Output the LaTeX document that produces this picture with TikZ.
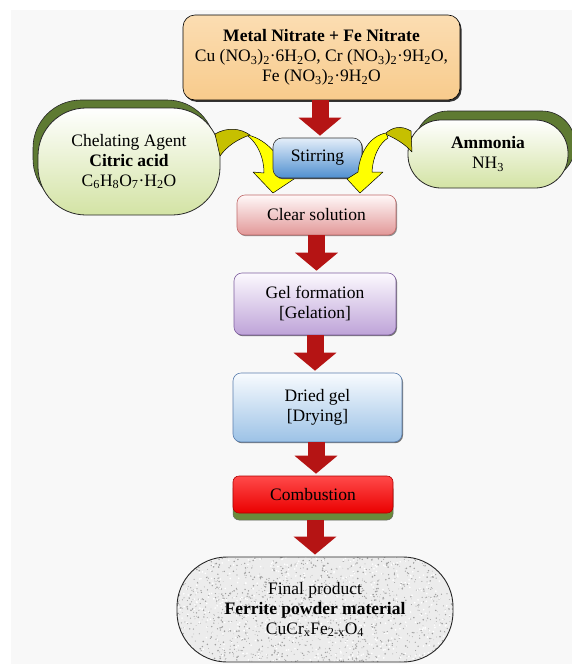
\documentclass[tikz,border=0pt]{standalone}
\usepackage{fontspec}
\setmainfont{Liberation Serif}
\usetikzlibrary{shadows,arrows.meta,calc,shadings}
\definecolor{bggray}{HTML}{F8F8F8}
\definecolor{orangeT}{HTML}{FBDDB2}
\definecolor{orangeB}{HTML}{F8CB8C}
\definecolor{stirT}{HTML}{E4EEF9}
\definecolor{stirB}{HTML}{4F8FD0}
\definecolor{clearT}{HTML}{FFF8F8}
\definecolor{clearB}{HTML}{E29898}
\definecolor{clearD}{HTML}{C06A6A}
\definecolor{gelT}{HTML}{FCF9FE}
\definecolor{gelB}{HTML}{BEA3D8}
\definecolor{gelD}{HTML}{7E5E9E}
\definecolor{dryT}{HTML}{F8FBFE}
\definecolor{dryB}{HTML}{9CC2E6}
\definecolor{dryD}{HTML}{5A7EAE}
\definecolor{combT}{HTML}{FF4A4A}
\definecolor{combB}{HTML}{EA0000}
\definecolor{combD}{HTML}{B00000}
\definecolor{olive}{HTML}{6A8A3A}
\definecolor{pillT}{HTML}{FFFFFF}
\definecolor{pillB}{HTML}{D3E3A4}
\definecolor{pillshadow}{HTML}{5E7A32}
\definecolor{arrowred}{HTML}{B51414}
\definecolor{yel}{HTML}{FFFF00}
\definecolor{darkyel}{HTML}{C6C000}
\definecolor{finalgray}{HTML}{ECECEC}
\begin{document}
\begin{tikzpicture}[x=1pt,y=-1pt,
  font=\fontsize{17.5}{20}\selectfont,
  boxstyle/.style={draw, rounded corners=8pt, align=center, inner sep=2pt, line width=0.6pt},
  pillstyle/.style={draw=black!85, line width=0.8pt, align=center, inner sep=2pt,
     top color=pillT, bottom color=pillB},
  redarr/.style={draw=arrowred, line width=17pt, -{Triangle[width=42pt,length=18pt]}, shorten >=2pt},
  yelarr/.style={fill=yel, draw=black, line width=0.5pt, line join=round},
  yeldark/.style={fill=darkyel, draw=black, line width=0.5pt, line join=round}
]
\useasboundingbox (0,0) rectangle (572,664);
\fill[white] (0,0) rectangle (572,664);
\fill[bggray] (11,10) rectangle (572,664);

% top box
\node[boxstyle, rounded corners=12pt, top color=orangeT, bottom color=orangeB,
      minimum width=277pt, minimum height=85pt,
      drop shadow={shadow xshift=1.5pt, shadow yshift=-1.8pt, fill=black!80, opacity=1}]
  (top) at (321.5,57.5)
  {\textbf{Metal Nitrate + Fe Nitrate}\\
   Cu (NO\textsubscript{3})\textsubscript{2}·6H\textsubscript{2}O, Cr (NO\textsubscript{3})\textsubscript{2}·9H\textsubscript{2}O,\\
   Fe (NO\textsubscript{3})\textsubscript{2}·9H\textsubscript{2}O};

% pills
\node[pillstyle, rounded corners=48pt, minimum width=182pt, minimum height=107pt,
      general shadow={fill=pillshadow, draw=black!85, line width=0.6pt, shadow xshift=-5pt, shadow yshift=8pt}]
  (chel) at (129,161.5)
  {Chelating Agent\\ \textbf{Citric acid}\\ C\textsubscript{6}H\textsubscript{8}O\textsubscript{7}·H\textsubscript{2}O};
\node[pillstyle, rounded corners=33pt, minimum width=160pt, minimum height=68pt,
      general shadow={fill=pillshadow, draw=black!85, line width=0.6pt, shadow xshift=7pt, shadow yshift=9pt}]
  (amm) at (488,154)
  {\textbf{Ammonia}\\ NH\textsubscript{3}};

% left yellow arrow
\path[yeldark] (215,134) .. controls (227,127) and (240,128) .. (250,135)
   .. controls (238,139) and (227,146) .. (220,156) -- cycle;
\path[yelarr] (248,135) .. controls (268,140) and (282,158) .. (286,176)
   -- (297,177) -- (273,193) -- (253,172) -- (264,173)
   .. controls (264,158) and (258,144) .. (248,136) -- cycle;

% stirring
\node[boxstyle, rounded corners=9pt, top color=stirT, bottom color=stirB, draw=black!80,
      minimum width=89pt, minimum height=40pt,
      drop shadow={shadow xshift=1pt, shadow yshift=-1.2pt, fill=black!70, opacity=1}]
  (stir) at (317.5,158) {Stirring};

% right yellow arrow
\path[yeldark] (411,131) .. controls (401,125) and (392,127) .. (385,134)
   .. controls (395,138) and (405,144) .. (412,152) -- cycle;
\path[yelarr] (386,133) .. controls (370,136) and (360,152) .. (358,172)
   -- (347,179) -- (360,193) -- (383,172) -- (372,172)
   .. controls (373,155) and (380,143) .. (388,138) -- cycle;

% process boxes
\node[boxstyle, draw=clearD, top color=clearT, bottom color=clearB,
      minimum width=159pt, minimum height=40pt,
      drop shadow={shadow xshift=1pt, shadow yshift=-1.2pt, fill=black!45, opacity=1}]
  (clear) at (316.5,215) {Clear solution};
\node[boxstyle, draw=gelD, top color=gelT, bottom color=gelB,
      minimum width=162pt, minimum height=62pt,
      drop shadow={shadow xshift=1pt, shadow yshift=-1.2pt, fill=black!55, opacity=1}]
  (gel) at (315,304) {Gel formation\\{}[Gelation]};
\node[boxstyle, draw=dryD, top color=dryT, bottom color=dryB,
      minimum width=169pt, minimum height=69pt,
      drop shadow={shadow xshift=1pt, shadow yshift=-1.2pt, fill=black!55, opacity=1}]
  (dry) at (317.5,407.5) {Dried gel\\{}[Drying]};
\node[boxstyle, rounded corners=6pt, draw=combD, top color=combT, bottom color=combB,
      minimum width=160pt, minimum height=37pt,
      general shadow={fill=olive, draw=black!60, line width=0.5pt, shadow xshift=0pt, shadow yshift=-7pt}]
  (comb) at (313,494.5) {Combustion};

% final pill
\pgfmathsetseed{7}
\node[draw=black!85, line width=0.9pt, rounded corners=50pt, fill=finalgray,
      minimum width=276pt, minimum height=105pt, align=center, inner sep=2pt,
      path picture={
        \foreach \i in {1,...,1400}{
          \pgfmathsetmacro{\rx}{276*rnd-138}
          \pgfmathsetmacro{\ry}{105*rnd-52.5}
          \pgfmathsetmacro{\rr}{0.3+0.6*rnd}
          \fill[black!38] ($(path picture bounding box.center)+(\rx,\ry)$) circle (\rr);
        }
        \foreach \i in {1,...,500}{
          \pgfmathsetmacro{\rx}{276*rnd-138}
          \pgfmathsetmacro{\ry}{105*rnd-52.5}
          \fill[white] ($(path picture bounding box.center)+(\rx,\ry)$) circle (0.9);
        }
      }]
  (final) at (315,609.5)
  {Final product\\ \textbf{Ferrite powder material}\\ CuCr\textsubscript{x}Fe\textsubscript{2-x}O\textsubscript{4}};

% red block arrows
\draw[redarr] ($(stir.north |- top.south)+(2.5,0)$) -- ($(stir.north)+(2.5,0)$);
\draw[redarr] (clear.south) -- (clear.south |- gel.north);
\draw[redarr] (gel.south) -- (gel.south |- dry.north);
\draw[redarr] ($(dry.south)+(-1.5,0)$) -- ($(dry.south |- comb.north)+(-1.5,0)$);
\draw[redarr] ($(comb.south)+(2,7)$) -- ($(comb.south |- final.north)+(2,0)$);
\end{tikzpicture}
\end{document}
